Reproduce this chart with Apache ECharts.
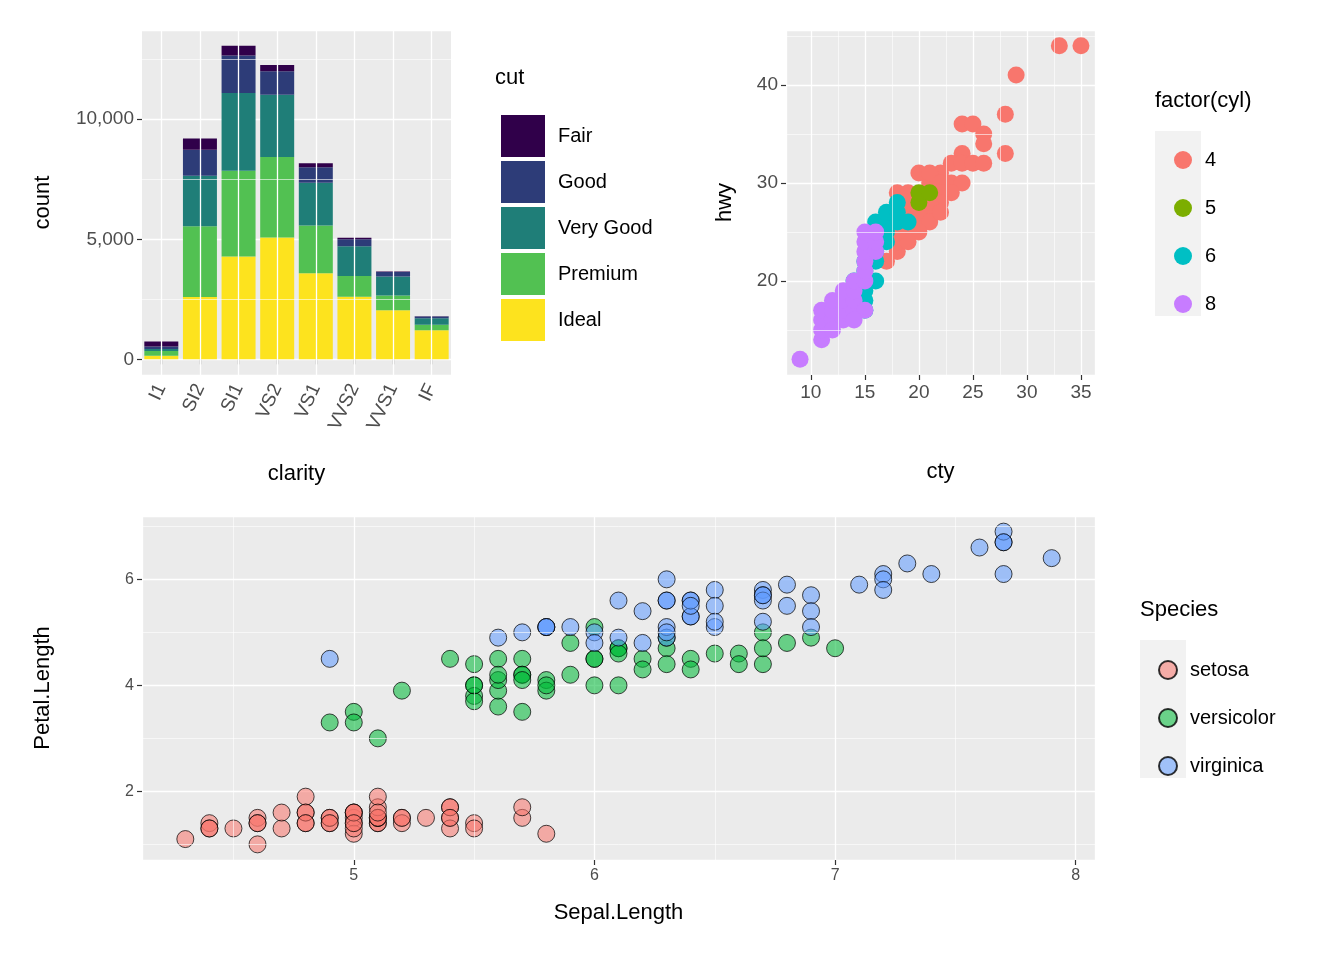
<!DOCTYPE html>
<html>
<head>
<meta charset="utf-8">
<script src="https://cdn.jsdelivr.net/npm/echarts@6/dist/echarts.min.js"></script>
<style>html,body{margin:0;background:#fff}#c{width:1344px;height:960px}</style>
</head>
<body>
<div id="c"></div>
<script>
// diamonds: count by clarity x cut
const clarity = ['I1', 'SI2', 'SI1', 'VS2', 'VS1', 'VVS2', 'VVS1', 'IF']
const cuts = ['Fair', 'Good', 'Very Good', 'Premium', 'Ideal']
const cutCounts = {
    'Fair': [210, 466, 408, 261, 170, 69, 17, 9],
    'Good': [96, 1081, 1560, 978, 648, 286, 186, 71],
    'Very Good': [84, 2100, 3240, 2591, 1775, 1235, 789, 268],
    'Premium': [205, 2949, 3575, 3357, 1989, 870, 616, 230],
    'Ideal': [146, 2598, 4282, 5071, 3589, 2606, 2047, 1212]
}
const cutColors = ['#30004A', '#2D3C78', '#1F7E78', '#52C152', '#FDE31E']

// mpg: [cty, hwy] by cylinders
const cylLevels = ['4', '5', '6', '8']
const cylColors = ['#F8766D', '#7CAE00', '#00BFC4', '#C77CFF']
const mpg4 = [[18, 29], [21, 29], [20, 31], [21, 30], [19, 26], [18, 26], [21, 27], [20, 28], [33, 44], [35, 44],
    [29, 41], [28, 37], [28, 33], [24, 36], [25, 36], [26, 35], [26, 34], [24, 33], [23, 32], [24, 32], [25, 32],
    [26, 32], [22, 31], [21, 31], [23, 30], [24, 30], [22, 30], [23, 29], [22, 29], [22, 28], [19, 28], [20, 26],
    [19, 27], [19, 25], [20, 27], [21, 26], [20, 25], [18, 23], [18, 24], [17, 22], [19, 24], [18, 25], [17, 25],
    [15, 20], [19, 29], [21, 28], [22, 27]]
const mpg5 = [[20, 28], [20, 29], [21, 29]]
const mpg6 = [[16, 26], [17, 26], [18, 26], [17, 27], [18, 27], [18, 28], [17, 24], [16, 24], [16, 23], [15, 22], [15, 21],
    [15, 20], [15, 19], [15, 18], [15, 17], [16, 20], [14, 20], [17, 25], [16, 25], [19, 26], [16, 22]]
const mpg8 = [[9, 12], [11, 14], [11, 15], [11, 16], [11, 17], [12, 16], [12, 17], [12, 18], [13, 16], [13, 17],
    [13, 18], [13, 19], [14, 17], [14, 18], [14, 19], [14, 20], [15, 17], [15, 20], [15, 21], [15, 22], [15, 23],
    [15, 24], [15, 25], [16, 23], [16, 24], [16, 25], [14, 16], [12, 15]]
const mpgData = [mpg4, mpg5, mpg6, mpg8]

// iris: Sepal.Length, Petal.Length
const species = ['setosa', 'versicolor', 'virginica']
const speciesColors = ['rgba(248,118,109,0.7)', 'rgba(0,186,56,0.7)', 'rgba(97,156,255,0.7)']
const setosaSL = [5.1, 4.9, 4.7, 4.6, 5.0, 5.4, 4.6, 5.0, 4.4, 4.9, 5.4, 4.8, 4.8, 4.3, 5.8, 5.7, 5.4, 5.1, 5.7, 5.1, 5.4, 5.1, 4.6, 5.1, 4.8, 5.0, 5.0, 5.2, 5.2, 4.7, 4.8, 5.4, 5.2, 5.5, 4.9, 5.0, 5.5, 4.9, 4.4, 5.1, 5.0, 4.5, 4.4, 5.0, 5.1, 4.8, 5.1, 4.6, 5.3, 5.0]
const setosaPL = [1.4, 1.4, 1.3, 1.5, 1.4, 1.7, 1.4, 1.5, 1.4, 1.5, 1.5, 1.6, 1.4, 1.1, 1.2, 1.5, 1.3, 1.4, 1.7, 1.5, 1.7, 1.5, 1.0, 1.7, 1.9, 1.6, 1.6, 1.5, 1.4, 1.6, 1.6, 1.5, 1.5, 1.4, 1.5, 1.2, 1.3, 1.4, 1.3, 1.5, 1.3, 1.3, 1.3, 1.6, 1.9, 1.4, 1.6, 1.4, 1.5, 1.4]
const versiSL = [7.0, 6.4, 6.9, 5.5, 6.5, 5.7, 6.3, 4.9, 6.6, 5.2, 5.0, 5.9, 6.0, 6.1, 5.6, 6.7, 5.6, 5.8, 6.2, 5.6, 5.9, 6.1, 6.3, 6.1, 6.4, 6.6, 6.8, 6.7, 6.0, 5.7, 5.5, 5.5, 5.8, 6.0, 5.4, 6.0, 6.7, 6.3, 5.6, 5.5, 5.5, 6.1, 5.8, 5.0, 5.6, 5.7, 5.7, 6.2, 5.1, 5.7]
const versiPL = [4.7, 4.5, 4.9, 4.0, 4.6, 4.5, 4.7, 3.3, 4.6, 3.9, 3.5, 4.2, 4.0, 4.7, 3.6, 4.4, 4.5, 4.1, 4.5, 3.9, 4.8, 4.0, 4.9, 4.7, 4.3, 4.4, 4.8, 5.0, 4.5, 3.5, 3.8, 3.7, 3.9, 5.1, 4.5, 4.5, 4.7, 4.4, 4.1, 4.0, 4.4, 4.6, 4.0, 3.3, 4.2, 4.2, 4.2, 4.3, 3.0, 4.1]
const virgSL = [6.3, 5.8, 7.1, 6.3, 6.5, 7.6, 4.9, 7.3, 6.7, 7.2, 6.5, 6.4, 6.8, 5.7, 5.8, 6.4, 6.5, 7.7, 7.7, 6.0, 6.9, 5.6, 7.7, 6.3, 6.7, 7.2, 6.2, 6.1, 6.4, 7.2, 7.4, 7.9, 6.4, 6.3, 6.1, 7.7, 6.3, 6.4, 6.0, 6.9, 6.7, 6.9, 5.8, 6.8, 6.7, 6.7, 6.3, 6.5, 6.2, 5.9]
const virgPL = [6.0, 5.1, 5.9, 5.6, 5.8, 6.6, 4.5, 6.3, 5.8, 6.1, 5.1, 5.3, 5.5, 5.0, 5.1, 5.3, 5.5, 6.7, 6.9, 5.0, 5.7, 4.9, 6.7, 4.9, 5.7, 6.0, 4.8, 4.9, 5.6, 5.8, 6.1, 6.4, 5.6, 5.1, 5.6, 6.1, 5.6, 5.5, 4.8, 5.4, 5.6, 5.1, 5.1, 5.9, 5.7, 5.2, 5.0, 5.2, 5.4, 5.1]
const irisSL = [setosaSL, versiSL, virgSL]
const irisPL = [setosaPL, versiPL, virgPL]

const font = 'Liberation Sans'
const bg = '#EBEBEB'
const tickColor = '#4D4D4D'

function zip(a, b) { return a.map((v, i) => [v, b[i]]) }

function valueAxis(gridIndex, min, max, step, name, extra) {
    return Object.assign({
        type: 'value', gridIndex, min, max, minInterval: step, maxInterval: step,
        name, nameLocation: 'middle',
        nameTextStyle: {fontFamily: font, fontSize: 22, color: '#000'},
        axisLine: {show: false},
        axisTick: {show: true, length: 5, lineStyle: {color: '#333', width: 1.2}},
        axisLabel: {fontFamily: font, fontSize: 19, color: tickColor, showMinLabel: false, showMaxLabel: false},
        splitLine: {show: true, lineStyle: {color: '#fff', width: 1.3}}
    }, extra || {})
}

// minor gridlines drawn through the axes as markLines on an empty series
function gridLines(xi, yi, xs, ys, width, z) {
    return {
        type: 'scatter', xAxisIndex: xi, yAxisIndex: yi, data: [], z: z || 1, silent: true,
        markLine: {
            silent: true, symbol: 'none', animation: false, label: {show: false},
            lineStyle: {color: '#fff', width, type: 'solid'},
            data: xs.map(v => ({xAxis: v})).concat(ys.map(v => ({yAxis: v})))
        }
    }
}

let series = []
// panel 1 bars, Ideal at bottom
for (let i = cuts.length - 1; i >= 0; i--) {
    series.push({
        type: 'bar', name: cuts[i], stack: 'cut', xAxisIndex: 0, yAxisIndex: 0, z: 3,
        data: cutCounts[cuts[i]], barWidth: '88%',
        itemStyle: {color: cutColors[i]}
    })
}
series.push(gridLines(0, 0, clarity, [], 1.3, 1))
series.push(gridLines(0, 0, [], [2500, 7500, 12500], 0.6, 1))

cylLevels.forEach((c, i) => {
    series.push({
        type: 'scatter', name: c, xAxisIndex: 1, yAxisIndex: 1, z: 3,
        data: mpgData[i], symbolSize: 17, itemStyle: {color: cylColors[i], opacity: 1}
    })
})
series.push(gridLines(1, 1, [12.5, 17.5, 22.5, 27.5, 32.5], [15, 25, 35, 45], 0.6, 1))

species.forEach((s, i) => {
    series.push({
        type: 'scatter', name: s, xAxisIndex: 2, yAxisIndex: 2, z: 3,
        data: zip(irisSL[i], irisPL[i]), symbolSize: 17,
        itemStyle: {color: speciesColors[i], borderColor: '#000', borderWidth: 0.9}
    })
})
series.push(gridLines(2, 2, [4.5, 5.5, 6.5, 7.5], [1, 3, 5, 7], 0.6, 1))

const legendText = {fontFamily: font, fontSize: 20, color: '#000', padding: [0, 0, 0, 8]}

const option = {
    backgroundColor: '#fff',
    animation: false,
    grid: [
        {left: 142, top: 30, width: 309, height: 345, show: true, backgroundColor: bg, borderWidth: 0},
        {left: 786, top: 30, width: 309, height: 345, show: true, backgroundColor: bg, borderWidth: 0},
        {left: 142, top: 516, width: 953, height: 344, show: true, backgroundColor: bg, borderWidth: 0}
    ],
    xAxis: [
        {
            type: 'category', gridIndex: 0, data: clarity, name: 'clarity', nameLocation: 'middle', nameGap: 88,
            nameTextStyle: {fontFamily: font, fontSize: 22, color: '#000'},
            axisLine: {show: false},
            axisTick: {show: true, alignWithLabel: true, length: 5, lineStyle: {color: '#333', width: 1.2}},
            axisLabel: {fontFamily: font, fontSize: 19, color: tickColor, rotate: 65, margin: 10},
            splitLine: {show: false}
        },
        valueAxis(1, 7.7, 36.3, 5, 'cty', {nameGap: 86}),
        valueAxis(2, 4.12, 8.08, 1, 'Sepal.Length', {nameGap: 42, axisLabel: {fontFamily: font, fontSize: 16, color: tickColor, showMinLabel: false, showMaxLabel: false}})
    ],
    yAxis: [
        valueAxis(0, -653, 13718, 5000, 'count', {nameGap: 88}),
        valueAxis(1, 10.4, 45.6, 10, 'hwy', {nameGap: 50}),
        valueAxis(2, 0.705, 7.195, 2, 'Petal.Length', {nameGap: 88, axisLabel: {fontFamily: font, fontSize: 16, color: tickColor, showMinLabel: false, showMaxLabel: false}})
    ],
    legend: [
        {
            data: cuts, left: 496, top: 110, orient: 'vertical', icon: 'rect',
            itemWidth: 44, itemHeight: 42, itemGap: 4, textStyle: legendText, selectedMode: false
        },
        {
            data: cylLevels, left: 1169, top: 145, orient: 'vertical', icon: 'circle',
            itemWidth: 18, itemHeight: 18, itemGap: 28, textStyle: legendText, selectedMode: false
        },
        {
            data: species, left: 1153, top: 655, orient: 'vertical', icon: 'circle',
            itemWidth: 18, itemHeight: 18, itemGap: 28, textStyle: legendText, selectedMode: false
        }
    ],
    graphic: [
        {type: 'text', left: 495, top: 67, style: {text: 'cut', font: '22px ' + font, fill: '#000'}},
        {type: 'rect', left: 1155, top: 131, shape: {width: 46, height: 185}, style: {fill: '#F2F2F2'}, z: -1},
        {type: 'text', left: 1155, top: 90, style: {text: 'factor(cyl)', font: '22px ' + font, fill: '#000'}},
        {type: 'rect', left: 1140, top: 640, shape: {width: 46, height: 138}, style: {fill: '#F2F2F2'}, z: -1},
        {type: 'text', left: 1140, top: 599, style: {text: 'Species', font: '22px ' + font, fill: '#000'}}
    ],
    series
}

let chart = echarts.init(document.getElementById('c'))
chart.setOption(option)
</script>
</body>
</html>
